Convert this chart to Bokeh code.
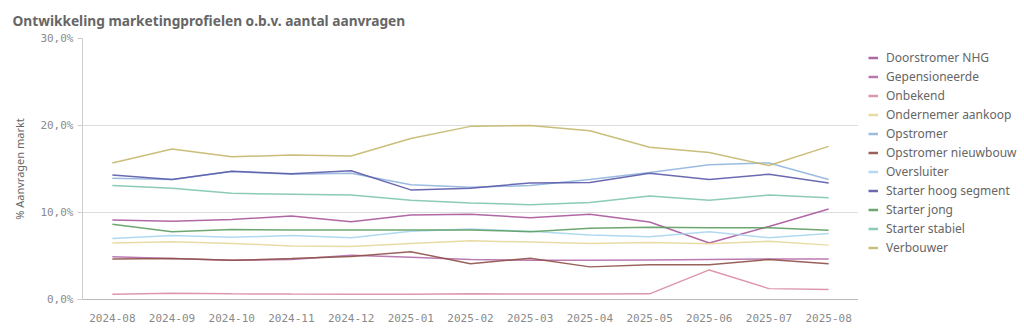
from bokeh.plotting import figure
from bokeh.layouts import row
from bokeh.models import FactorRange, Range1d, FixedTicker, Legend, LegendItem
from bokeh.embed import file_html
from bokeh.resources import INLINE

months = ["2024-08", "2024-09", "2024-10", "2024-11", "2024-12", "2025-01", "2025-02",
          "2025-03", "2025-04", "2025-05", "2025-06", "2025-07", "2025-08"]

doorstromer_nhg = [9.15, 9.0, 9.2, 9.6, 8.95, 9.7, 9.8, 9.4, 9.8, 8.9, 6.5, 8.4, 10.4]
gepensioneerde = [4.9, 4.7, 4.5, 4.6, 5.1, 4.85, 4.6, 4.5, 4.5, 4.55, 4.6, 4.65, 4.65]
onbekend = [0.6, 0.72, 0.65, 0.62, 0.6, 0.6, 0.65, 0.62, 0.62, 0.65, 3.4, 1.25, 1.15]
ondernemer_aankoop = [6.5, 6.65, 6.45, 6.15, 6.1, 6.45, 6.75, 6.6, 6.45, 6.55, 6.4, 6.7, 6.25]
opstromer = [13.95, 13.8, 14.7, 14.4, 14.5, 13.2, 12.9, 13.1, 13.8, 14.6, 15.5, 15.7, 13.8]
opstromer_nieuwbouw = [4.65, 4.7, 4.5, 4.7, 4.95, 5.5, 4.1, 4.75, 3.75, 4.0, 4.0, 4.6, 4.1]
oversluiter = [7.0, 7.35, 7.15, 7.35, 7.1, 7.85, 8.1, 7.85, 7.4, 7.2, 7.8, 7.1, 7.6]
starter_hoog_segment = [14.3, 13.8, 14.75, 14.45, 14.8, 12.6, 12.8, 13.4, 13.45, 14.5, 13.8, 14.4, 13.4]
starter_jong = [8.65, 7.8, 8.05, 8.0, 8.0, 8.0, 8.0, 7.8, 8.2, 8.3, 8.25, 8.25, 7.95]
starter_stabiel = [13.1, 12.8, 12.2, 12.1, 12.0, 11.4, 11.1, 10.9, 11.15, 11.9, 11.4, 12.0, 11.7]
verbouwer = [15.7, 17.3, 16.4, 16.6, 16.5, 18.5, 19.9, 20.0, 19.4, 17.5, 16.9, 15.4, 17.6]

series_names = ["Doorstromer NHG", "Gepensioneerde", "Onbekend", "Ondernemer aankoop",
                "Opstromer", "Opstromer nieuwbouw", "Oversluiter", "Starter hoog segment",
                "Starter jong", "Starter stabiel", "Verbouwer"]
series_values = [doorstromer_nhg, gepensioneerde, onbekend, ondernemer_aankoop, opstromer,
                 opstromer_nieuwbouw, oversluiter, starter_hoog_segment, starter_jong,
                 starter_stabiel, verbouwer]
series_colors = ["#a8579a", "#b46aa8", "#d98ca2", "#e6d79a", "#90b5de", "#8e5048",
                 "#a9d5ef", "#5b5aa9", "#5c9d60", "#80c5b0", "#c4b76c"]

y_ticks = [0, 10, 20, 30]
y_tick_labels = ["0,0%", "10,0%", "20,0%", "30,0%"]

p = figure(width=858, height=333, x_range=FactorRange(*months), y_range=Range1d(0, 30),
           output_backend="svg", toolbar_location=None,
           min_border_left=82, min_border_right=0, min_border_top=38, min_border_bottom=34)
p.outline_line_color = None
p.background_fill_color = "white"
p.border_fill_color = "white"

p.title.text = "Ontwikkeling marketingprofielen o.b.v. aantal aanvragen"
p.title.align = "left"
p.title.offset = -70
p.title.text_font = "Noto Sans"
p.title.text_font_style = "bold"
p.title.text_font_size = "13.7px"
p.title.text_color = "#666666"
p.title.standoff = 17

for name, vals, col in zip(series_names, series_values, series_colors):
    p.line(x=months, y=vals, line_color=col, line_width=1.5, line_alpha=0.9)

# axes
p.yaxis.ticker = FixedTicker(ticks=y_ticks)
p.yaxis.major_label_overrides = {t: l for t, l in zip(y_ticks, y_tick_labels)}
p.yaxis.axis_label = "% Aanvragen markt"
p.yaxis.axis_label_text_font = "Noto Sans"
p.yaxis.axis_label_text_font_style = "normal"
p.yaxis.axis_label_text_font_size = "11px"
p.yaxis.axis_label_text_color = "#666666"
p.yaxis.axis_label_standoff = 10
p.yaxis.major_label_text_font = "DejaVu Sans Mono"
p.yaxis.major_label_text_font_size = "11px"
p.yaxis.major_label_text_color = "#8a8a8a"
p.yaxis.axis_line_color = "#cccccc"
p.yaxis.major_tick_line_color = "#cccccc"
p.yaxis.major_tick_out = 5
p.yaxis.major_tick_in = 0
p.yaxis.minor_tick_line_color = None
p.yaxis.major_label_standoff = 4

p.xaxis.major_label_text_font = "DejaVu Sans Mono"
p.xaxis.major_label_text_font_size = "11px"
p.xaxis.major_label_text_color = "#8a8a8a"
p.xaxis.axis_line_color = "#bbbbbb"
p.xaxis.major_tick_line_color = None
p.xaxis.minor_tick_line_color = None
p.xaxis.major_label_standoff = 8

p.xgrid.grid_line_color = None
p.ygrid.ticker = FixedTicker(ticks=y_ticks[1:])
p.ygrid.grid_line_color = "#dddddd"

# legend panel: a small figure whose view hides the (same) series lines
pl = figure(width=166, height=333, x_range=FactorRange(*months), y_range=Range1d(100, 101),
            output_backend="svg", toolbar_location=None,
            min_border_left=0, min_border_right=0, min_border_top=38, min_border_bottom=34)
pl.axis.visible = False
pl.grid.visible = False
pl.outline_line_color = None
items = []
for name, vals, col in zip(series_names, series_values, series_colors):
    r = pl.line(x=months, y=vals, line_color=col, line_width=2.5, line_alpha=0.9)
    items.append(LegendItem(label=name, renderers=[r]))

legend = Legend(items=items, location=(10, 42), orientation="vertical",
                padding=0, margin=0, spacing=0, label_height=19, glyph_height=19,
                glyph_width=10, label_standoff=8,
                label_text_font="Noto Sans", label_text_font_size="12px",
                label_text_color="#666666", border_line_color=None,
                background_fill_alpha=0)
pl.add_layout(legend, "center")

layout = row(p, pl, spacing=0)
open("out.html", "w").write(file_html(layout, INLINE))
